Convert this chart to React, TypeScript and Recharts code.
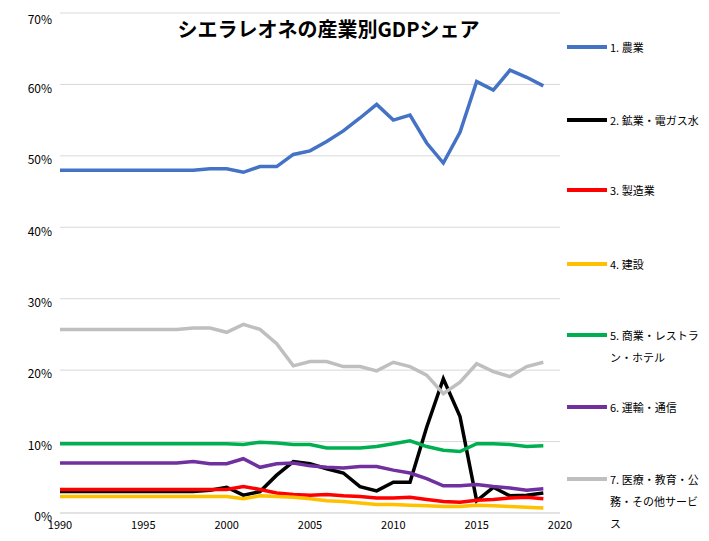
import { LineChart, Line, XAxis, YAxis, CartesianGrid } from "recharts"

const years = [1990, 1991, 1992, 1993, 1994, 1995, 1996, 1997, 1998, 1999, 2000, 2001, 2002, 2003, 2004, 2005, 2006, 2007, 2008, 2009, 2010, 2011, 2012, 2013, 2014, 2015, 2016, 2017, 2018, 2019]

const agriculture = [48, 48, 48, 48, 48, 48, 48, 48, 48, 48.2, 48.2, 47.7, 48.5, 48.5, 50.2, 50.7, 52, 53.5, 55.3, 57.2, 55, 55.7, 51.8, 49, 53.3, 60.4, 59.2, 62, 61, 59.8]
const mining = [3, 3, 3, 3, 3, 3, 3, 3, 3, 3.2, 3.6, 2.5, 3, 5.3, 7.2, 6.9, 6.2, 5.6, 3.7, 3.1, 4.3, 4.3, 12, 18.8, 13.5, 1.7, 3.6, 2.4, 2.5, 2.8]
const manufacturing = [3.3, 3.3, 3.3, 3.3, 3.3, 3.3, 3.3, 3.3, 3.3, 3.3, 3.3, 3.7, 3.3, 2.8, 2.6, 2.5, 2.6, 2.4, 2.3, 2.1, 2.1, 2.2, 1.9, 1.6, 1.5, 1.8, 1.9, 2.1, 2.2, 2]
const construction = [2.3, 2.3, 2.3, 2.3, 2.3, 2.3, 2.3, 2.3, 2.3, 2.3, 2.3, 2, 2.4, 2.3, 2.2, 2, 1.7, 1.6, 1.4, 1.2, 1.2, 1.1, 1, 0.9, 0.9, 1.1, 1, 0.9, 0.8, 0.7]
const commerce = [9.7, 9.7, 9.7, 9.7, 9.7, 9.7, 9.7, 9.7, 9.7, 9.7, 9.7, 9.6, 9.9, 9.8, 9.6, 9.6, 9.1, 9.1, 9.1, 9.3, 9.7, 10.1, 9.3, 8.8, 8.6, 9.7, 9.7, 9.6, 9.3, 9.4]
const transport = [7, 7, 7, 7, 7, 7, 7, 7, 7.2, 6.9, 6.9, 7.6, 6.4, 6.9, 7, 6.6, 6.4, 6.3, 6.5, 6.5, 6, 5.6, 4.8, 3.8, 3.8, 4, 3.7, 3.5, 3.2, 3.4]
const services = [25.7, 25.7, 25.7, 25.7, 25.7, 25.7, 25.7, 25.7, 25.9, 25.9, 25.3, 26.4, 25.7, 23.7, 20.6, 21.2, 21.2, 20.5, 20.5, 19.9, 21.1, 20.5, 19.3, 16.7, 18.3, 20.9, 19.8, 19.1, 20.5, 21.1]

const seriesNames = ["1. 農業", "2. 鉱業・電ガス水", "3. 製造業", "4. 建設", "5. 商業・レストラン・ホテル", "6. 運輸・通信", "7. 医療・教育・公務・その他サービス"]
const seriesColors = ["#4472c4", "#000000", "#ff0000", "#ffc000", "#00b050", "#7030a0", "#bfbfbf"]
const seriesValues = [agriculture, mining, manufacturing, construction, commerce, transport, services]
const xTicks = [1990, 1995, 2000, 2005, 2010, 2015, 2020]
const yTicks = [0, 10, 20, 30, 40, 50, 60, 70]

const legendLines = [["1. 農業"], ["2. 鉱業・電ガス水"], ["3. 製造業"], ["4. 建設"], ["5. 商業・レストラ", "ン・ホテル"], ["6. 運輸・通信"], ["7. 医療・教育・公", "務・その他サービ", "ス"]]
const legendTops = [28, 101, 171, 245, 316, 388, 460]

const data = years.map((year, i) => {
  const row: Record<string, number> = { year }
  seriesValues.forEach((s, k) => (row[`s${k}`] = s[i]))
  return row
})

const font = "'Noto Sans CJK JP', 'Noto Sans', sans-serif"

export default function App() {
  return (
    <div style={{ position: "relative", width: 701, height: 533, fontFamily: font, background: "#fff" }}>
      <LineChart width={701} height={533} data={data} margin={{ top: 5, right: 149, bottom: 0, left: 0 }} style={{ overflow: "visible" }}>
        <CartesianGrid vertical={false} stroke="#d9d9d9" />
        <XAxis dataKey="year" type="number" domain={[1990, 2020]} ticks={xTicks} height={28}
          tick={{ fontSize: 11, fill: "#000" }} tickLine={false} axisLine={{ stroke: "#d9d9d9" }} />
        <YAxis domain={[0, 70]} ticks={yTicks} width={52} tickFormatter={(v) => `${v}%`}
          tick={{ fontSize: 12, fill: "#000", dy: 4 }} tickLine={false} axisLine={false} />
        {seriesNames.map((name, k) => (
          <Line key={name} name={name} dataKey={`s${k}`} stroke={seriesColors[k]} strokeWidth={3.5}
            dot={false} isAnimationActive={false} />
        ))}
      </LineChart>
      <div style={{ position: "absolute", left: 0, width: 701, top: 6, textAlign: "center", fontSize: 20, fontWeight: "bold", paddingRight: 60, boxSizing: "border-box" }}>
        シエラレオネの産業別GDPシェア
      </div>
      {legendLines.map((lines, k) => (
        <div key={k} style={{ position: "absolute", left: 559, top: legendTops[k], fontSize: 11, lineHeight: "22px", display: "flex", whiteSpace: "nowrap" }}>
          <div style={{ width: 40, height: 3.5, background: seriesColors[k], marginTop: 9, marginRight: 3 }} />
          <div>{lines.map((l, j) => <div key={j}>{l}</div>)}</div>
        </div>
      ))}
    </div>
  )
}
